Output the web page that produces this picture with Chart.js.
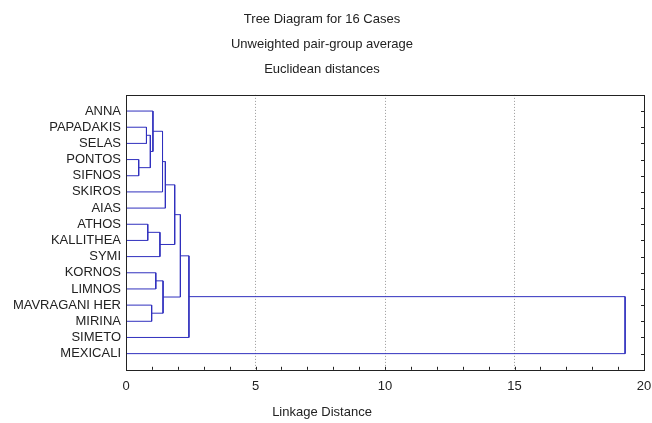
<!DOCTYPE html>
<html>
<head>
<meta charset="utf-8">
<script src="https://cdn.jsdelivr.net/npm/chart.js@4.4.1/dist/chart.umd.min.js"></script>
<style>
  html, body { margin: 0; padding: 0; background: #fff; }
  #wrap { width: 652px; height: 423px; }
</style>
</head>
<body>
<div id="wrap"><canvas id="treeChart"></canvas></div>
<script>
// leaf order, top to bottom
const cases = ['ANNA', 'PAPADAKIS', 'SELAS', 'PONTOS', 'SIFNOS', 'SKIROS', 'AIAS', 'ATHOS',
    'KALLITHEA', 'SYMI', 'KORNOS', 'LIMNOS', 'MAVRAGANI HER', 'MIRINA', 'SIMETO', 'MEXICALI'];

// merge steps: leaves are 0..15, each step makes node 16, 17, ...
const mergeA = [3, 1, 7, 17, 12, 0, 10, 18, 21, 22, 24, 26, 27, 28, 29];
const mergeB = [4, 2, 8, 16, 13, 19, 11, 9, 5, 20, 6, 23, 25, 14, 15];
const mergeDist = [0.49, 0.79, 0.84, 0.94, 0.99, 1.04, 1.15, 1.31, 1.41, 1.43, 1.52, 1.88, 2.10, 2.43, 19.27];

const xTicks = [0, 5, 10, 15, 20];
const lineColor = 'rgb(48, 48, 190)';
const fontFamily = "'Liberation Sans', Arial, sans-serif";

// node positions: x = linkage distance, y = row
const nodeX = cases.map(() => 0);
const nodeY = cases.map((c, i) => i);
const datasets = [];
for (let i = 0; i < mergeDist.length; i++) {
    const a = mergeA[i], b = mergeB[i], h = mergeDist[i];
    datasets.push({
        data: [
            { x: nodeX[a], y: nodeY[a] },
            { x: h, y: nodeY[a] },
            { x: h, y: nodeY[b] },
            { x: nodeX[b], y: nodeY[b] }
        ],
        showLine: true,
        borderColor: lineColor,
        borderWidth: 1,
        pointRadius: 0,
        fill: false
    });
    nodeX.push(h);
    nodeY.push((nodeY[a] + nodeY[b]) / 2);
}

const frame = {
    id: 'frame',
    afterDraw(chart) {
        const { ctx, chartArea: a, scales } = chart;
        ctx.save();
        ctx.strokeStyle = '#222';
        ctx.lineWidth = 1;
        ctx.strokeRect(Math.round(a.left) + 0.5, Math.round(a.top) + 0.5,
            Math.round(a.right - a.left), Math.round(a.bottom - a.top));
        ctx.beginPath();
        // minor ticks pointing inward on the bottom axis
        for (let v = 1; v < 20; v++) {
            const px = Math.round(scales.x.getPixelForValue(v)) + 0.5;
            ctx.moveTo(px, a.bottom);
            ctx.lineTo(px, a.bottom - 3);
        }
        // small inward ticks on the right side, one per case
        for (let i = 0; i < cases.length; i++) {
            const py = Math.round(scales.y.getPixelForValue(i)) + 0.5;
            ctx.moveTo(a.right, py);
            ctx.lineTo(a.right - 3, py);
        }
        ctx.stroke();
        ctx.restore();
    }
};

new Chart(document.getElementById('treeChart'), {
    type: 'scatter',
    data: { datasets: datasets },
    plugins: [frame],
    options: {
        responsive: true,
        maintainAspectRatio: false,
        animation: false,
        layout: { padding: { left: 0, right: 8, top: 0, bottom: 0 } },
        plugins: {
            legend: { display: false },
            tooltip: { enabled: false },
            title: {
                display: true,
                text: ['Tree Diagram for 16 Cases', 'Unweighted pair-group average', 'Euclidean distances'],
                color: '#222',
                font: { family: fontFamily, size: 13, weight: 'normal', lineHeight: 1.92 },
                padding: { top: 7, bottom: 13 }
            },
            subtitle: {
                display: true,
                position: 'bottom',
                text: 'Linkage Distance',
                color: '#222',
                font: { family: fontFamily, size: 13, weight: 'normal' },
                padding: { top: 1, bottom: 3 }
            }
        },
        scales: {
            x: {
                type: 'linear',
                min: 0,
                max: 20,
                afterBuildTicks: scale => {
                    scale.ticks = [];
                    for (let v = 0; v <= 20; v++) scale.ticks.push({ value: v });
                },
                afterFit: scale => { scale.paddingRight = 0; scale.paddingLeft = 0; },
                ticks: {
                    autoSkip: false,
                    maxRotation: 0,
                    padding: 9,
                    color: '#222',
                    font: { family: fontFamily, size: 13 },
                    callback: v => xTicks.includes(v) ? String(v) : ''
                },
                grid: {
                    drawTicks: false,
                    color: c => (c.tick && c.tick.value % 5 === 0 && c.tick.value > 0 && c.tick.value < 20) ? '#999' : 'rgba(0,0,0,0)'
                },
                border: { display: false, dash: [1, 2] }
            },
            y: {
                type: 'linear',
                reverse: true,
                min: -1,
                max: 16,
                afterBuildTicks: scale => {
                    scale.ticks = cases.map((c, i) => ({ value: i }));
                },
                afterFit: scale => { scale.width = 126; },
                ticks: {
                    autoSkip: false,
                    padding: 5,
                    color: '#222',
                    font: { family: fontFamily, size: 13 },
                    callback: v => cases[v]
                },
                grid: { display: false, drawTicks: false },
                border: { display: false }
            }
        }
    }
});
</script>
</body>
</html>
